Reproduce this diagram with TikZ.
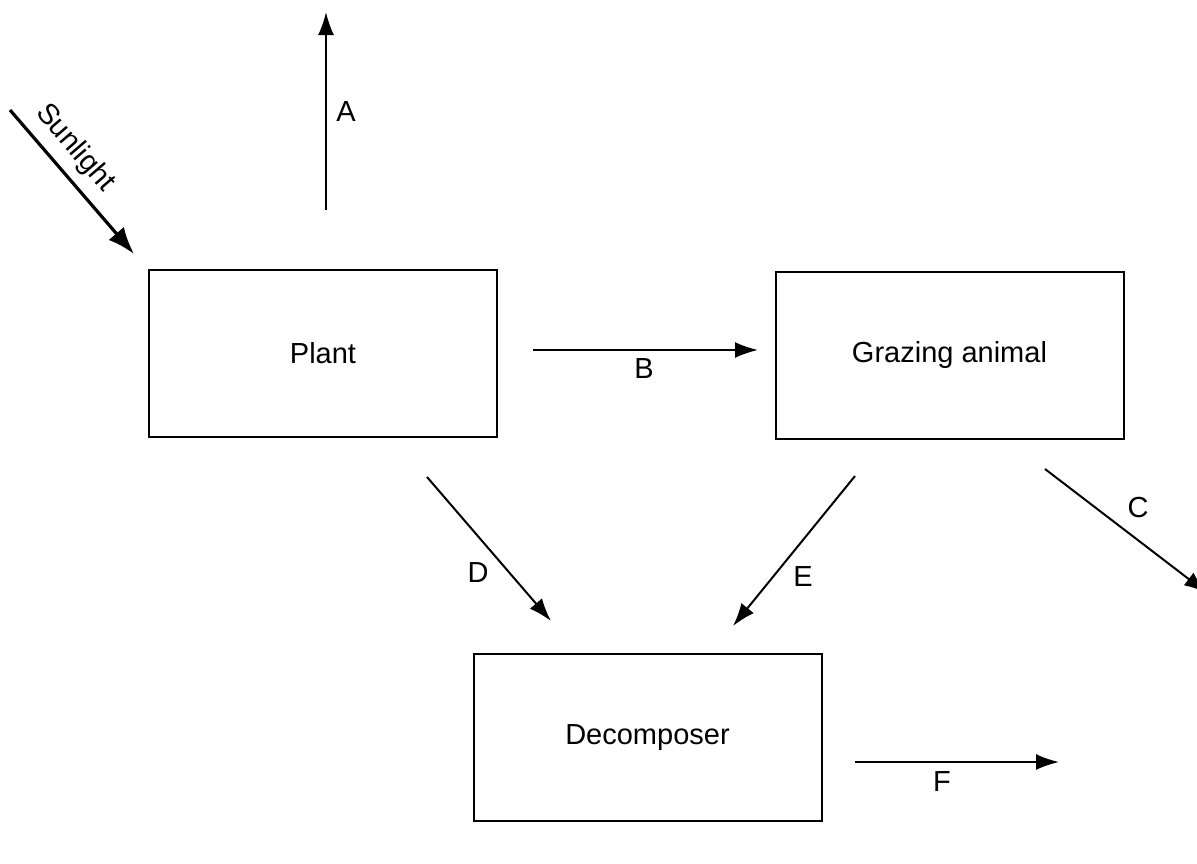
\documentclass[tikz,border=0pt]{standalone}
\usepackage{fontspec}
\setmainfont{Liberation Sans}
\usetikzlibrary{arrows.meta}
\begin{document}
\begin{tikzpicture}[x=1pt,y=-1pt,
  box/.style={draw,line width=2pt,minimum width=348pt,minimum height=167pt,inner sep=0pt,font=\fontsize{29}{34}\selectfont},
  flow/.style={line width=2pt,-{Latex[length=23pt,width=16pt]}},
  bigflow/.style={line width=3.2pt,-{Latex[length=27pt,width=20pt]}},
  lbl/.style={font=\fontsize{29}{34}\selectfont,inner sep=0pt}]
\useasboundingbox (0,0) rectangle (1197,863);
\clip (0,0) rectangle (1197,863);
\fill[white] (0,0) rectangle (1197,863);
\node[box] (plant) at (323,353.5) {Plant};
\node[box] (graze) at (949.5,355) {Grazing animal};
\node[box] (decomp) at (647.5,737.5) {Decomposer};
% A
\coordinate (a0) at (326,210);
\coordinate (a1) at (326,12);
\draw[flow] (a0) -- (a1);
\node[lbl] (la) at (346,112) {A};
% Sunlight
\coordinate (s0) at (10,110);
\coordinate (s1) at (134,254);
\draw[bigflow] (s0) -- (s1);
\node[lbl,rotate=-49.3] (ls) at (75,148) {Sunlight};
% B
\coordinate (b0) at (533,350);
\coordinate (b1) at (758,350);
\draw[flow] (b0) -- (b1);
\node[lbl] (lb) at (644,369) {B};
% D
\coordinate (d0) at (427,477);
\coordinate (d1) at (551,621);
\draw[flow] (d0) -- (d1);
\node[lbl] (ld) at (478,573) {D};
% E
\coordinate (e0) at (855,476);
\coordinate (e1) at (733,626);
\draw[flow] (e0) -- (e1);
\node[lbl] (le) at (803,577) {E};
% C
\coordinate (c0) at (1045,469);
\coordinate (c1) at (1207,593);
\draw[flow] (c0) -- (c1);
\node[lbl] (lc) at (1138,508) {C};
% F
\coordinate (f0) at (855,762);
\coordinate (f1) at (1059,762);
\draw[flow] (f0) -- (f1);
\node[lbl] (lf) at (942,782) {F};
\end{tikzpicture}
\end{document}
